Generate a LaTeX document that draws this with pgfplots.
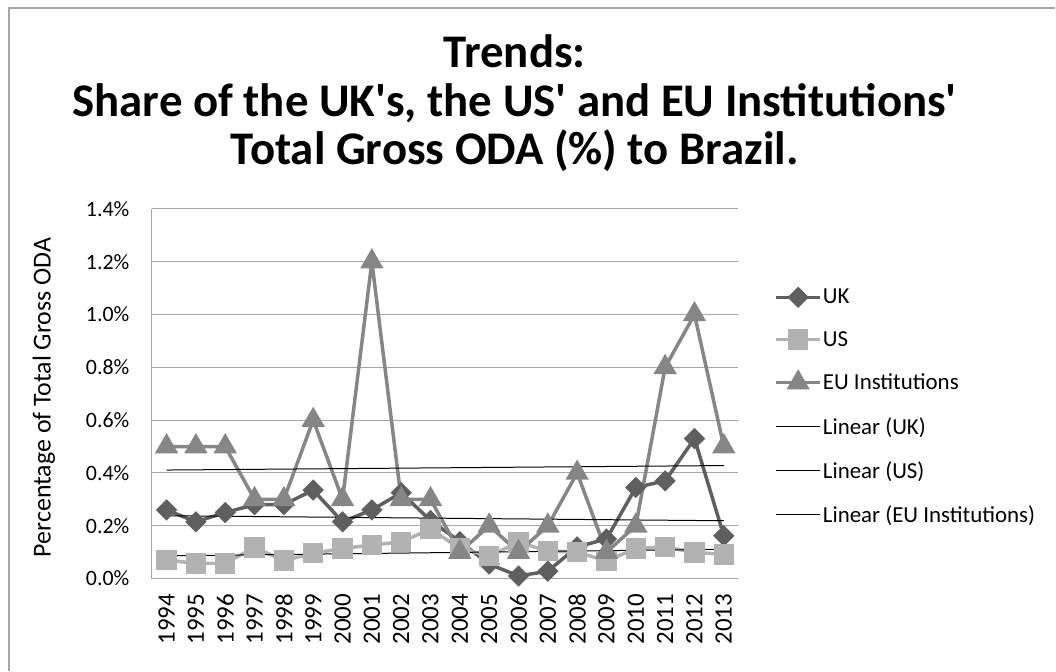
\documentclass[border=0pt]{standalone}
\usepackage{pgfplots}
\pgfplotsset{compat=1.18}
\usepackage{fontspec}
\setmainfont{Carlito}
\newfontfamily\plainfont{Carlito}[Ligatures=TeXOff]
\definecolor{ukc}{HTML}{5F5F5F}
\definecolor{usc}{HTML}{B2B2B2}
\definecolor{euc}{HTML}{868686}
\definecolor{gridc}{HTML}{A6A6A6}
\begin{document}
\begin{tikzpicture}
\path (0,0) rectangle (1056bp,671bp);
\draw[gridc, line width=1.5bp] (9bp,0) -- (9bp,663bp) -- (1056bp,663bp);
\node[anchor=base, font=\plainfont\bfseries\fontsize{47}{50}\selectfont] at (515bp,603bp) {Trends:};
\node[anchor=base, font=\plainfont\bfseries\fontsize{47}{50}\selectfont] at (515bp,554bp) {Share of the UK's, the US' and EU Institutions'};
\node[anchor=base, font=\plainfont\bfseries\fontsize{47}{50}\selectfont] at (515bp,506bp) {Total Gross ODA (\%) to Brazil.};
\begin{axis}[
  at={(152bp,92bp)}, anchor=south west,
  scale only axis, width=587bp, height=370bp,
  xmin=1993.5, xmax=2013.5, ymin=0, ymax=1.4,
  xtick={1994,...,2013},
  ytick={0,0.2,...,1.4},
  /pgf/number format/assume math mode=true,
  xticklabel style={rotate=90, anchor=east, font=\fontsize{25}{27}\selectfont},
  xticklabel shift=12bp,
  xticklabel={\pgfmathprintnumber[1000 sep={}]{\tick}},
  yticklabel style={font=\fontsize{22}{24}\selectfont},
  yticklabel shift=19bp,
  yticklabel={\pgfmathprintnumber[fixed,fixed zerofill,precision=1]{\tick}\%},
  major tick length=0pt,
  axis x line*=bottom, axis y line*=left,
  axis line style={gridc, line width=1bp, -},
  ymajorgrids, grid style={gridc, line width=1bp},
  ylabel={Percentage of Total Gross ODA},
  ylabel style={font=\fontsize{26}{28}\selectfont, at={(axis description cs:-0.184,0.49)}, anchor=center},
  legend style={at={(1.061,0.465)}, anchor=west, draw=none, fill=none,
    font=\fontsize{23}{25}\selectfont, row sep=24bp, inner sep=0pt,
    nodes={inner sep=1bp}},
  legend cell align=left,
  legend image code/.code={\draw[mark repeat=2,mark phase=2,#1] plot coordinates {(0bp,0bp) (22bp,0bp) (44bp,0bp)};},
  clip=false,
]
\addplot[ukc, line width=3.5bp, mark=square*, mark size=5.8bp, mark options={rotate=45}] coordinates {
(1994,0.26) (1995,0.215) (1996,0.25) (1997,0.28) (1998,0.28) (1999,0.335) (2000,0.215) (2001,0.26) (2002,0.325) (2003,0.22)
(2004,0.14) (2005,0.055) (2006,0.01) (2007,0.028) (2008,0.12) (2009,0.15) (2010,0.345) (2011,0.37) (2012,0.53) (2013,0.162)};
\addlegendentry{UK}
\addplot[usc, line width=3.5bp, mark=square*, mark size=8.5bp] coordinates {
(1994,0.07) (1995,0.058) (1996,0.058) (1997,0.118) (1998,0.068) (1999,0.096) (2000,0.114) (2001,0.127) (2002,0.139) (2003,0.187)
(2004,0.115) (2005,0.086) (2006,0.137) (2007,0.105) (2008,0.10) (2009,0.067) (2010,0.114) (2011,0.12) (2012,0.099) (2013,0.092)};
\addlegendentry{US}
\addplot[euc, line width=3.5bp, mark=triangle*, mark size=10bp] coordinates {
(1994,0.5) (1995,0.5) (1996,0.5) (1997,0.3) (1998,0.3) (1999,0.6) (2000,0.3) (2001,1.2) (2002,0.3) (2003,0.3)
(2004,0.1) (2005,0.2) (2006,0.1) (2007,0.2) (2008,0.4) (2009,0.1) (2010,0.2) (2011,0.8) (2012,1.0) (2013,0.5)};
\addlegendentry{EU Institutions}
\addplot[black, line width=1bp, mark=none] coordinates {(1994,0.238) (2013,0.219)};
\addlegendentry{Linear (UK)}
\addplot[black, line width=1bp, mark=none] coordinates {(1994,0.086) (2013,0.111)};
\addlegendentry{Linear (US)}
\addplot[black, line width=1bp, mark=none] coordinates {(1994,0.411) (2013,0.428)};
\addlegendentry{Linear (EU Institutions)}
\end{axis}
\end{tikzpicture}
\end{document}
